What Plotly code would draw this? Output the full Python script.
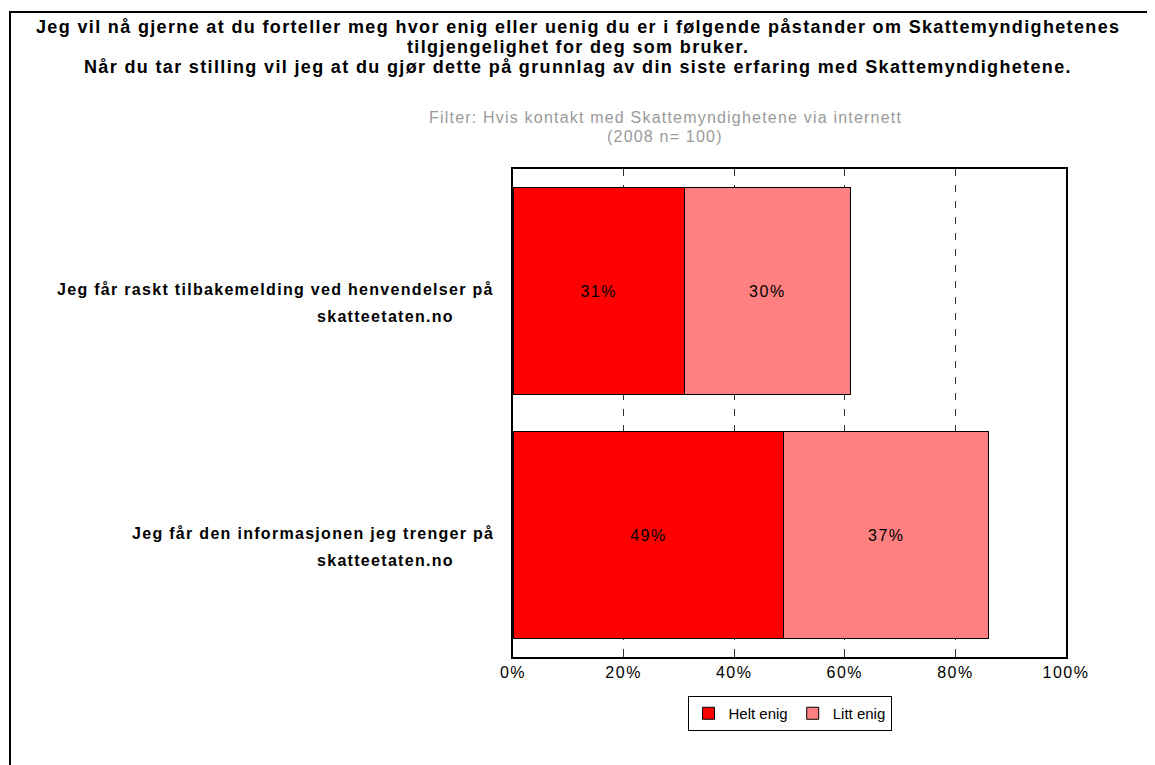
import plotly.graph_objects as go

# ---- data ----
categories = ["Jeg får raskt tilbakemelding ved henvendelser på skatteetaten.no",
              "Jeg får den informasjonen jeg trenger på skatteetaten.no"]
label_line1 = ["Jeg får raskt tilbakemelding ved henvendelser på",
               "Jeg får den informasjonen jeg trenger på"]
label_line2 = ["skatteetaten.no", "skatteetaten.no"]
series_names = ["Helt enig", "Litt enig"]
helt_enig = [31, 49]
litt_enig = [30, 37]
series_values = [helt_enig, litt_enig]
series_colors = ["#FF0000", "#FF8080"]
x_ticks = [0, 20, 40, 60, 80, 100]
x_ticklabels = ["0%", "20%", "40%", "60%", "80%", "100%"]
title_lines = [
    "Jeg vil nå gjerne at du forteller meg hvor enig eller uenig du er i følgende påstander om Skattemyndighetenes",
    "tilgjengelighet for deg som bruker.",
    "Når du tar stilling vil jeg at du gjør dette på grunnlag av din siste erfaring med Skattemyndighetene.",
]
subtitle_lines = ["Filter: Hvis kontakt med Skattemyndighetene via internett", "(2008 n= 100)"]

FONT = "Liberation Sans, Arial, sans-serif"


def spaced(txt, ls, bold=False):
    inner = f"<span style='letter-spacing:{ls}px'>{txt}</span>"
    return f"<b>{inner}</b>" if bold else inner


fig = go.Figure()
for name, vals, col in zip(series_names, series_values, series_colors):
    fig.add_trace(go.Bar(
        y=categories, x=vals, name=name, orientation="h",
        marker=dict(color=col, line=dict(color="black", width=1)),
        text=[spaced(f"{v}%", 1.5) for v in vals], textposition="inside",
        insidetextanchor="middle",
        textfont=dict(family=FONT, size=16, color="black"),
        hoverinfo="skip",
    ))

# Figure is placed at page offset (8, 8) by the browser's default body margin.
OFF = 8
W, H = 1155 - OFF, 765 - OFF
L = 513 - OFF
T = 169 - OFF
R = W - (1066 - OFF)
B = H - (657 - OFF)
pw = W - L - R
ph = H - T - B


def px_x(page_x):
    return (page_x - OFF - L) / pw


def px_y(page_y):
    return (H - B - (page_y - OFF)) / ph


annotations = []
title_y = [27, 47, 67]
for line, yy in zip(title_lines, title_y):
    annotations.append(dict(text=spaced(line, 1.35, bold=True), xref="paper", yref="paper",
                            x=px_x(578), y=px_y(yy), xanchor="center", yanchor="middle",
                            showarrow=False, font=dict(family=FONT, size=18, color="black")))
sub_y = [118, 137]
for line, yy in zip(subtitle_lines, sub_y):
    annotations.append(dict(text=spaced(line, 1.2), xref="paper", yref="paper",
                            x=px_x(665), y=px_y(yy), xanchor="center", yanchor="middle",
                            showarrow=False, font=dict(family=FONT, size=16, color="#9A9A9A")))
for cat, l1, l2 in zip(categories, label_line1, label_line2):
    annotations.append(dict(text=spaced(l1, 1.3, bold=True), xref="paper", yref="y", x=px_x(496), y=cat,
                            xanchor="right", yanchor="middle", yshift=2, showarrow=False,
                            font=dict(family=FONT, size=16, color="black")))
    annotations.append(dict(text=spaced(l2, 1.3, bold=True), xref="paper", yref="y", x=px_x(456), y=cat,
                            xanchor="right", yanchor="middle", yshift=-25, showarrow=False,
                            font=dict(family=FONT, size=16, color="black")))

shapes = [dict(type="rect", xref="paper", yref="paper",
               x0=px_x(10), x1=px_x(1152), y0=px_y(800), y1=px_y(12),
               line=dict(color="black", width=2), fillcolor="rgba(0,0,0,0)", layer="below")]

fig.update_layout(
    width=W, height=H,
    margin=dict(l=L, r=R, t=T, b=B, pad=0),
    barmode="stack", bargap=0.15,
    paper_bgcolor="white", plot_bgcolor="white",
    font=dict(family=FONT, size=16, color="black"),
    showlegend=True,
    legend=dict(orientation="h", x=0.5, xanchor="center", y=px_y(696), yanchor="top",
                bordercolor="black", borderwidth=1, bgcolor="white",
                font=dict(family=FONT, size=15, color="black"),
                itemwidth=30, traceorder="normal", tracegroupgap=0, itemclick=False),
    annotations=annotations,
    shapes=shapes,
    xaxis=dict(range=[0, 100], tickvals=x_ticks,
               ticktext=[spaced(t, 1.5) for t in x_ticklabels],
               showgrid=True, gridcolor="#333333", gridwidth=1, griddash="7px,9px",
               ticks="inside", ticklen=7, tickcolor="#333333",
               showline=True, linecolor="black", linewidth=1.5, mirror=True,
               zeroline=False, fixedrange=True, tickfont=dict(size=16)),
    yaxis=dict(autorange="reversed", showticklabels=False, ticks="",
               showline=True, linecolor="black", linewidth=1.5, mirror=True,
               showgrid=False, fixedrange=True),
)

fig.write_html("out.html", config={"displayModeBar": False})
